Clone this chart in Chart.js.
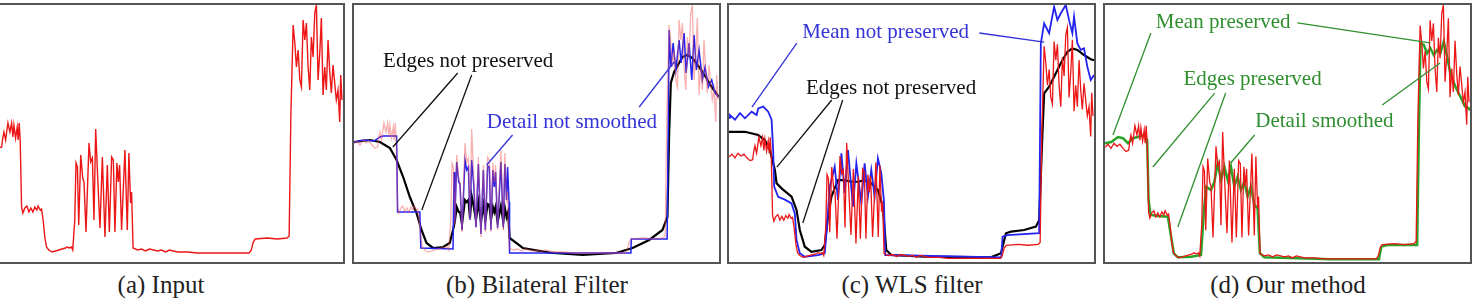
<!DOCTYPE html>
<html>
<head>
<meta charset="utf-8">
<script src="https://cdn.jsdelivr.net/npm/chart.js@4/dist/chart.umd.min.js"></script>
<style>
  body { margin: 0; background: #fff; width: 1476px; height: 305px; overflow: hidden; position: relative; }
  .panel { position: absolute; top: 3px; width: 365px; height: 257px; border: 2px solid #555; }
  .panel canvas { display: block; }
  .cap { position: absolute; top: 271px; width: 300px; text-align: center;
         font: 25px "Liberation Serif", "DejaVu Serif", serif; color: #222; }
</style>
</head>
<body>
<div class="panel" id="pa"><canvas id="ca" width="365" height="257"></canvas></div>
<div class="panel" id="pb"><canvas id="cb" width="365" height="257"></canvas></div>
<div class="panel" id="pc"><canvas id="cc" width="365" height="257"></canvas></div>
<div class="panel" id="pd"><canvas id="cd" width="365" height="257"></canvas></div>
<div class="cap" id="capa">(a) Input</div>
<div class="cap" id="capb">(b) Bilateral Filter</div>
<div class="cap" id="capc">(c) WLS filter</div>
<div class="cap" id="capd">(d) Our method</div>
<script>
// input signal (red)
const inputX = [0, 3, 6, 9, 12, 15, 18, 21, 23.7, 25, 26, 27.7, 29, 30, 32, 33.7, 35, 36, 37.7, 39.3, 40.3, 41.3, 42.3,
  43.7, 45, 47, 49, 51, 53, 55, 57, 59, 60.3, 62.3, 63.7, 65.3, 67, 68.7, 71, 74.3, 77.7, 81, 84.3, 87.7, 89.3, 91.7, 93.7, 95,
  97, 98.3, 99.7, 101, 103, 105, 106.3, 108.3, 111.3, 113, 114.7, 116.3, 118, 120, 122.3, 124.7, 127.3, 129.7, 131.7, 134,
  135.7, 137.3, 139.3, 140.7, 142, 144, 147.3, 149.7, 151.3, 153, 154, 155.5,
  160, 164, 168, 172, 176, 180, 184, 188, 192, 196, 200, 210, 220, 240, 260, 272, 274, 276, 278, 290, 300, 310, 312,
  313.7, 316, 317.7, 319.3, 321, 322.7, 324.3, 326, 327.7, 329.3, 331, 332.7, 334.3, 336, 337.7, 339.3, 341, 342.7, 344.3,
  346, 347.7, 349.3, 351, 352.7, 354.3, 356, 357.7, 359.3, 361, 362.7, 363.7, 365];
const inputY = [118, 121, 117, 122, 119, 121, 117, 114, 115, 125, 130, 122, 132, 139, 130, 139, 125, 137, 124, 135, 122, 139, 122,
  55, 49, 54, 56, 50, 54, 50, 55, 52, 56, 52, 53, 42, 25, 15, 12, 10, 11, 12, 13, 14, 15, 14, 15, 12,
  42, 99, 95, 37, 107, 84, 80, 30, 119, 100, 104, 42, 133, 85, 34, 105, 25, 97, 30, 105,
  102, 30, 99, 80, 97, 32, 112, 32, 109, 59, 70, 14,
  12, 13, 11, 13, 12, 11, 12, 10, 12, 11, 10, 10, 9, 9, 9, 9, 12, 20, 23, 24, 23, 24, 26,
  145, 237, 219, 195, 212, 182, 175, 242, 222, 239, 195, 172, 225, 205, 249, 257, 182, 209, 244,
  167, 195, 172, 222, 190, 169, 197, 179, 162, 172, 140, 187, 162];

// (b) bilateral filter: blue = output, black = smoothed base
const bilatBlueX = [0, 9.3, 20, 26, 29.3, 42.7, 43.7, 66, 67, 99.3, 100.3, 101, 103, 105, 106.3, 108.3, 111.3, 113, 114.7,
  116.3, 118, 120, 122.3, 124.7, 127.3, 129.7, 131.7, 134, 135.7, 137.3, 139.3, 140.7, 142, 144, 147.3, 149.7, 151.3, 153,
  154, 155.5, 156, 277.7, 278, 314, 316, 317.7, 320, 322.7, 326, 328, 331, 333, 336, 338.7, 341, 343.3, 346, 349.3, 352,
  355.3, 358.7, 362, 366];
const bilatBlueY = [120, 122, 121, 125, 126, 126, 50, 50, 14, 13, 90, 40, 100, 80, 78, 32, 102, 92, 95,
  42, 102, 78, 35, 98, 28, 92, 32, 96, 95, 32, 92, 75, 90, 34, 100, 35, 98, 62,
  95, 60, 9, 9, 23, 23, 232, 195, 219, 192, 222, 199, 229, 189, 219, 182, 227, 192, 212, 182, 195,
  175, 182, 169, 165];
const bilatBlackX = [0, 16, 26, 36, 42.7, 49.3, 56, 62.7, 67.7, 72.7, 79.3, 89.3, 96, 99.3, 101, 103, 105, 106.3, 108.3,
  111.3, 113, 114.7, 116.3, 118, 120, 122.3, 124.7, 127.3, 129.7, 131.7, 134, 135.7, 137.3, 139.3, 140.7, 142, 144, 147.3,
  149.7, 151.3, 153, 154.5, 156, 169.3, 196, 229.3, 262.7, 279.3, 296, 309.3, 314.3, 316, 317.7, 321, 329.3, 334.3,
  339.3, 346, 352.7, 359.3, 366];
const bilatBlackY = [120, 122, 120, 114, 102, 85, 65, 49, 32, 19, 14, 15, 19, 32, 40, 55, 50, 50, 38,
  62, 60, 62, 44, 66, 56, 42, 60, 40, 57, 42, 58, 57, 42, 55, 50, 55, 40, 56,
  40, 54, 45, 50, 24, 14, 9.3, 7, 9, 14, 22, 32, 45, 129, 179, 190, 205, 207,
  204, 195, 185, 174, 165];

// (c) WLS filter: blue = output, black = smoothed base
const wlsBlueX = [0, 1, 6, 11, 16, 22.7, 27.7, 29.3, 34.3, 39.3, 42.7, 44.3, 45.3, 49.3, 56, 62.7, 66, 67.7, 71, 76, 89.3, 96,
  97.7, 101, 106, 109.3, 112.7, 116, 119.3, 124.3, 127.7, 132.7, 136, 139.3, 142.7, 146, 149.3, 152.7, 155.3, 156.7,
  273, 274.3, 279.3, 311, 312.7, 316, 321, 326, 329.3, 332.7, 337.7, 341, 344.3, 346, 349.3, 352.7, 356, 359.3, 362.7, 366];
const wlsBlueY = [160, 163, 158, 165, 159.5, 166.6, 163, 170, 172, 166.6, 158, 125, 86, 75, 72, 68, 57, 28.7, 14.4, 10.7, 12.5, 14.4,
  35.9, 86, 107.4, 71.7, 121.9, 78.9, 125.4, 64.4, 111, 68.1, 111, 75.2, 103.9, 75.2, 116.5, 100.4, 71.7, 12.5,
  10, 32.2, 34, 35.9, 240, 261.6, 250.9, 279.4, 265.2, 272.4, 281.3, 265, 251, 268.7, 240, 233, 234.7, 215, 200.7, 206];
const wlsBlackX = [0, 16, 29.3, 36, 41, 46, 47.7, 52.7, 62.7, 67.7, 71, 76, 82.7, 92.7, 96, 99.3, 102.7, 109.3, 116, 122.7,
  129.3, 136, 142.7, 149.3, 154.3, 157.7, 162.7, 196, 262.7, 272.7, 277.7, 282.7, 296, 307.7, 311, 314.3, 316, 321, 326,
  332.7, 339.3, 344.3, 349.3, 356, 362.7, 366];
const wlsBlackY = [145, 145, 141.5, 136, 125.4, 104, 89.6, 84.2, 75.2, 61, 39.4, 21.4, 16, 17.9, 23.3, 53.7, 75.2, 93, 93, 91.3,
  91.3, 93, 89.6, 82.4, 64.4, 17.9, 12.5, 10.7, 10, 14.4, 35.9, 37.6, 39.4, 43, 50, 143.4, 186.4, 193.5, 204.2,
  218.6, 231, 234.7, 233, 227.5, 223, 222];

// (d) our method: green = smoothed output
const oursX = [0, 6.3, 13, 18, 23, 28, 33, 39.7, 42.3, 43.7, 45.7, 53, 63, 65.7, 69, 73, 86.3, 96.3, 99, 101.3, 106.3, 109.7,
  113, 116.3, 119.7, 123, 126.3, 129.7, 133, 136.3, 139.7, 143, 146.3, 149.7, 153, 155.3, 159.7, 226.3, 274.7, 277, 283,
  313, 314.7, 316.3, 319.7, 323, 326.3, 329.7, 333, 336.3, 339.7, 343, 346.3, 351.3, 356.3, 361.3, 364.7, 366];
const oursY = [122, 123.2, 128.1, 126.9, 122, 126.9, 128.1, 130.1, 125.2, 66.6, 51.9, 50.9, 50.3, 34, 14.5, 10.6, 11.2, 12.8, 53.6,
  79.6, 76.3, 84.5, 102.4, 86.1, 99.1, 86.1, 99.1, 79.6, 89.3, 76.3, 84.5, 69.8, 79.6, 61.7, 58.5, 14.5, 10.6, 8.6, 8.6,
  21, 22.6, 22.6, 131.7, 219.7, 218, 209.9, 214.8, 208.2, 213.1, 209.9, 221.2, 206.6, 190.4, 177.3, 167.5, 157.7, 156.2, 154];

const BLUE = '#2323f0', BLUE_TXT = '#3434d8', GREEN = '#27a327', GREEN_TXT = '#2f8f2f', RED = '#ec1616';

const pts = (xs, ys) => xs.map((x, i) => ({ x: x, y: ys[i] }));
const line = (xs, ys, color, width) => ({
  data: pts(xs, ys), borderColor: color, borderWidth: width, pointRadius: 0, tension: 0, fill: false
});

// annotation text + leader lines, positioned in data units via the chart's scales
const notesPlugin = {
  id: 'notes',
  afterDatasetsDraw(chart, args, opts) {
    const ctx = chart.ctx, sx = chart.scales.x, sy = chart.scales.y;
    ctx.save();
    (opts.lines || []).forEach(l => {
      ctx.strokeStyle = l.color;
      ctx.lineWidth = 1.3;
      ctx.beginPath();
      ctx.moveTo(sx.getPixelForValue(l.x1), sy.getPixelForValue(l.y1));
      ctx.lineTo(sx.getPixelForValue(l.x2), sy.getPixelForValue(l.y2));
      ctx.stroke();
    });
    (opts.texts || []).forEach(t => {
      ctx.fillStyle = t.color;
      ctx.font = '21px "Liberation Serif"';
      ctx.textAlign = 'center';
      ctx.textBaseline = 'alphabetic';
      ctx.fillText(t.text, sx.getPixelForValue(t.x), sy.getPixelForValue(t.y));
    });
    ctx.restore();
  }
};

function makePanel(id, left, yMin, yMax, datasets, notes) {
  const box = document.getElementById('p' + id);
  box.style.left = (left - 2) + 'px';
  const cap = document.getElementById('cap' + id);
  cap.style.left = (left + 183 - 150) + 'px';
  new Chart(document.getElementById('c' + id), {
    type: 'line',
    data: { datasets: datasets },
    options: {
      responsive: false,
      animation: false,
      layout: { padding: 0 },
      plugins: { legend: { display: false }, tooltip: { enabled: false }, notes: notes || {} },
      scales: {
        x: { type: 'linear', min: 0, max: 366, display: false },
        y: { min: yMin, max: yMax, display: false }
      }
    },
    plugins: [notesPlugin]
  });
}

makePanel('a', -22, 0, 257, [line(inputX, inputY, RED, 1.4)]);

makePanel('b', 354, 0, 257, [
  line(inputX, inputY, 'rgba(240,80,80,0.45)', 1.3),
  line(bilatBlueX, bilatBlueY, BLUE, 1.5),
  line(bilatBlackX, bilatBlackY, '#000', 2.2)
], {
  texts: [
    { text: 'Edges not preserved', x: 114.5, y: 195, color: '#111' },
    { text: 'Detail not smoothed', x: 218.5, y: 134, color: BLUE_TXT }
  ],
  lines: [
    { x1: 104, y1: 189, x2: 39, y2: 115, color: '#111' },
    { x1: 118, y1: 187, x2: 68, y2: 52, color: '#111' },
    { x1: 159, y1: 127, x2: 133, y2: 97, color: BLUE_TXT },
    { x1: 286, y1: 155, x2: 321, y2: 200, color: BLUE_TXT }
  ]
});

makePanel('c', 729, 5, 281.3, [
  line(inputX, inputY, RED, 1.3),
  line(wlsBlueX, wlsBlueY, BLUE, 1.8),
  line(wlsBlackX, wlsBlackY, '#000', 2.2)
], {
  texts: [
    { text: 'Mean not preserved', x: 157, y: 245.8, color: BLUE_TXT },
    { text: 'Edges not preserved', x: 162.5, y: 185.6, color: '#111' }
  ],
  lines: [
    { x1: 68, y1: 240.4, x2: 23, y2: 171.6, color: BLUE_TXT },
    { x1: 251, y1: 251.2, x2: 316, y2: 241.5, color: BLUE_TXT },
    { x1: 103, y1: 179.2, x2: 48, y2: 107, color: '#111' },
    { x1: 114, y1: 179.2, x2: 74, y2: 47, color: '#111' }
  ]
});

makePanel('d', 1105, 6, 257, [
  line(inputX, inputY, RED, 1.3),
  line(oursX, oursY, GREEN, 2.5)
], {
  texts: [
    { text: 'Mean preserved', x: 118.5, y: 234.6, color: GREEN_TXT },
    { text: 'Edges preserved', x: 148, y: 179, color: GREEN_TXT },
    { text: 'Detail smoothed', x: 220, y: 137.9, color: GREEN_TXT }
  ],
  lines: [
    { x1: 46, y1: 229.7, x2: 8, y2: 130, color: GREEN_TXT },
    { x1: 193, y1: 239.5, x2: 326, y2: 220, color: GREEN_TXT },
    { x1: 110, y1: 171, x2: 48, y2: 98.8, color: GREEN_TXT },
    { x1: 121, y1: 171, x2: 73, y2: 40.2, color: GREEN_TXT },
    { x1: 150, y1: 130, x2: 126, y2: 102.7, color: GREEN_TXT },
    { x1: 278, y1: 159.4, x2: 336, y2: 200.4, color: GREEN_TXT }
  ]
});
</script>
</body>
</html>
